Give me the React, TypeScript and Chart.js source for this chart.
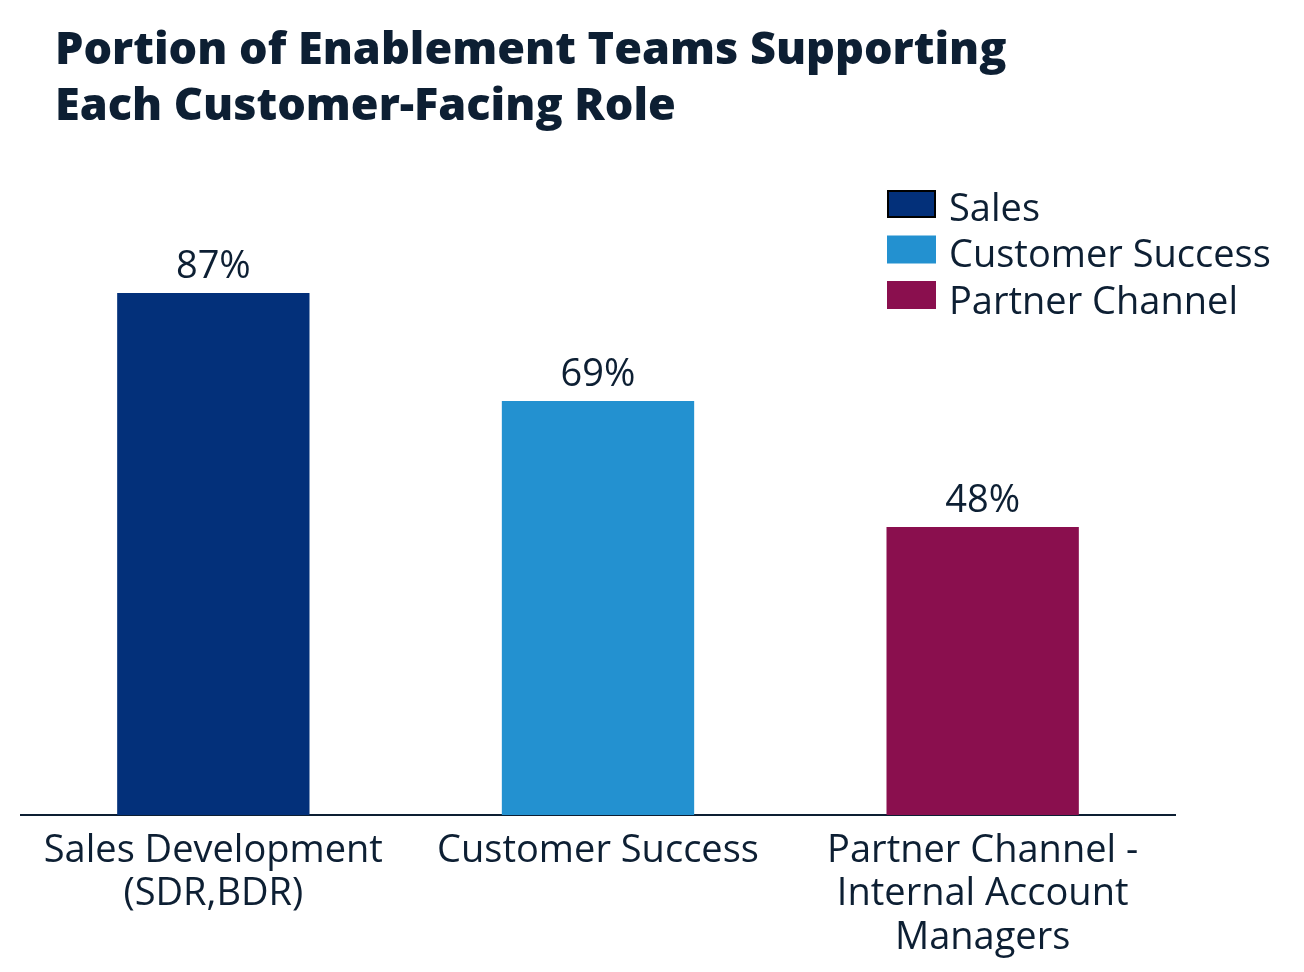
import React, { useEffect, useRef } from "react";
import { Chart, registerables } from "chart.js";

Chart.register(...registerables);

const titleLines = ["Portion of Enablement Teams Supporting", "Each Customer-Facing Role"];
const categories = [
  ["Sales Development", "(SDR,BDR)"],
  ["Customer Success"],
  ["Partner Channel -", "Internal Account", "Managers"],
];
const seriesNames = ["Sales", "Customer Success", "Partner Channel"];
const values = [87, 69, 48];
const colors = ["#03307a", "#2391d0", "#8a0f4e"];

const TEXT = "#0d1f33";
const FONT = "'Open Sans', Lato, sans-serif";

const overlayPlugin = {
  id: "overlay",
  afterDatasetsDraw(chart: any) {
    const ctx = chart.ctx;
    ctx.save();
    // data labels
    ctx.fillStyle = TEXT;
    ctx.font = `400 38px ${FONT}`;
    ctx.textAlign = "center";
    ctx.textBaseline = "alphabetic";
    chart.data.datasets.forEach((ds: any, i: number) => {
      const meta = chart.getDatasetMeta(i);
      meta.data.forEach((el: any, j: number) => {
        const v = ds.data[j];
        if (v == null) return;
        ctx.fillText(`${v}%`, el.x, el.y - 15);
      });
    });
    // title
    ctx.textAlign = "left";
    ctx.font = `800 45px ${FONT}`;
    titleLines.forEach((t, k) => ctx.fillText(t, 55, 64 + k * 56));
    // legend
    ctx.font = `400 38px ${FONT}`;
    ctx.textBaseline = "middle";
    chart.data.datasets.forEach((ds: any, i: number) => {
      const y = 190 + i * 45.5;
      ctx.fillStyle = ds.backgroundColor;
      ctx.fillRect(887, y, 49, 28);
      if (i === 0) {
        ctx.strokeStyle = "#000";
        ctx.lineWidth = 2;
        ctx.strokeRect(888, y + 1, 47, 26);
      }
      ctx.fillStyle = TEXT;
      ctx.fillText(ds.label, 949, y + 20 + i);
    });
    ctx.restore();
  },
};

export default function App() {
  const ref = useRef<HTMLCanvasElement | null>(null);
  useEffect(() => {
    if (!ref.current) return;
    const chart = new Chart(ref.current, {
      type: "bar",
      data: {
        labels: categories,
        datasets: seriesNames.map((name, i) => ({
          label: name,
          data: categories.map((_, j) => (j === i ? values[i] : null)),
          backgroundColor: colors[i],
          borderWidth: 0,
          grouped: false,
          categoryPercentage: 1,
          barPercentage: 0.5,
        })),
      },
      options: {
        animation: false,
        responsive: false,
        maintainAspectRatio: false,
        layout: { padding: { top: 215, left: 21, right: 129, bottom: 0 } },
        plugins: {
          legend: { display: false },
          title: { display: false },
          tooltip: { enabled: false },
        },
        scales: {
          y: { display: false, min: 0, max: 100 },
          x: {
            grid: { display: false },
            border: { display: true, color: TEXT, width: 2 },
            ticks: {
              color: TEXT,
              font: { family: FONT, size: 38, weight: "400", lineHeight: 1.15 },
              padding: 6,
              autoSkip: false,
              maxRotation: 0,
              minRotation: 0,
            },
            afterFit(scale: any) {
              scale.height = 972 - 815;
            },
          },
        },
      },
      plugins: [overlayPlugin],
    });
    return () => chart.destroy();
  }, []);
  return (
    <div style={{ position: "fixed", left: 0, top: 0, width: 1304, height: 972, background: "#fff" }}>
      <canvas ref={ref} width={1304} height={972} style={{ display: "block" }} />
    </div>
  );
}
